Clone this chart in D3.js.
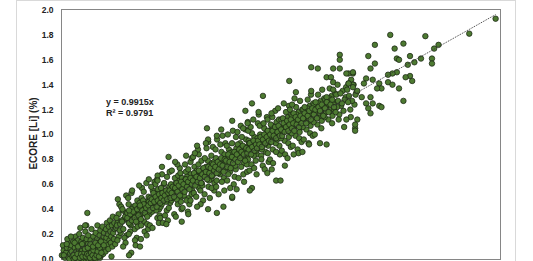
<!DOCTYPE html>
<html>
<head>
<meta charset="utf-8">
<title>ECORE Li scatter</title>
<script src="https://d3js.org/d3.v7.min.js"></script>
<style>
body { margin: 0; background: #fff; }
svg { display: block; font-family: "Liberation Sans", Arial, sans-serif; }
.tick-label { font-size: 8.5px; font-weight: bold; fill: #222; }
.axis-title { font-size: 10px; font-weight: bold; fill: #222; }
.eq { font-size: 9px; font-weight: bold; fill: #222; }
circle.pt { fill: #4d7a31; stroke: #1b2614; stroke-width: 0.75px; }
</style>
</head>
<body>
<script>

var width = 533,
    height = 261;

// y axis ticks (ECORE [Li] %)
var yTicks = [0, 0.2, 0.4, 0.6, 0.8, 1.0, 1.2, 1.4, 1.6, 1.8, 2.0];

// trendline y = 0.9915x, R² = 0.9791
var slope = 0.9915;
var eqLines = ["y = 0.9915x", "R\u00b2 = 0.9791"];

// [reference Li, ECORE Li]
var lowCluster = [
  [0.004,0.03],[0.012,0.07],[0.009,0.11],[0.018,0.01],[0.023,0.05],[0.027,0.09],[0.031,0.02],[0.035,0.13],[0.029,0.16],[0.041,0.04],
  [0.044,0.08],[0.038,0.00],[0.047,0.11],[0.052,0.02],[0.049,0.06],[0.056,0.14],[0.058,0.00],[0.061,0.04],[0.063,0.09],[0.066,0.18],
  [0.068,0.01],[0.071,0.06],[0.074,0.03],[0.072,0.12],[0.077,0.15],[0.079,0.00],[0.081,0.08],[0.084,0.02],[0.083,0.20],[0.087,0.05],
  [0.089,0.11],[0.091,0.01],[0.093,0.14],[0.095,0.03],[0.097,0.07],[0.099,0.17],[0.101,0.00],[0.104,0.04],[0.103,0.10],[0.106,0.02],
  [0.108,0.13],[0.110,0.06],[0.112,0.00],[0.111,0.22],[0.114,0.03],[0.116,0.09],[0.118,0.01],[0.117,0.16],[0.121,0.05],[0.123,0.12],
  [0.125,0.00],[0.127,0.07],[0.124,0.19],[0.129,0.02],[0.131,0.10],[0.133,0.04],[0.135,0.15],[0.136,0.00],[0.138,0.08],[0.141,0.02],
  [0.139,0.24],[0.143,0.12],[0.145,0.05],[0.147,0.18],[0.149,0.01],[0.151,0.09],[0.153,0.03],[0.152,0.14],[0.156,0.06],[0.158,0.21],
  [0.159,0.00],[0.161,0.11],[0.163,0.04],[0.165,0.16],[0.166,0.27],[0.168,0.02],[0.170,0.08],[0.172,0.13],[0.174,0.05],[0.176,0.19],
  [0.178,0.01],[0.179,0.23],[0.181,0.10],[0.183,0.03],[0.185,0.15],[0.187,0.07],[0.189,0.26],[0.190,0.12],[0.192,0.04],[0.194,0.18],
  [0.196,0.21],[0.198,0.09],[0.201,0.14],[0.203,0.06],[0.205,0.24],[0.207,0.17],[0.209,0.29],[0.212,0.11],[0.214,0.20],[0.216,0.08],
  [0.218,0.26],[0.221,0.15],[0.223,0.31],[0.225,0.22],[0.227,0.13],[0.229,0.18],[0.232,0.27],[0.234,0.10],[0.236,0.34],[0.238,0.21],
  [0.241,0.16],[0.243,0.29],[0.245,0.24],[0.247,0.12],
  [0.057,0.03],[0.064,0.01],[0.075,0.04],[0.086,0.01],[0.092,0.04],[0.098,0.02],[0.107,0.05],[0.113,0.02],[0.119,0.04],[0.126,0.03],
  [0.132,0.01],[0.137,0.05],[0.144,0.03],[0.148,0.07],[0.154,0.01],[0.162,0.03],[0.167,0.06],[0.173,0.02],[0.177,0.09],[0.184,0.05],
  [0.013,0.03],[0.026,0.12],[0.045,0.18],[0.062,0.13],[0.078,0.10],[0.096,0.12],[0.109,0.08],[0.122,0.09],[0.134,0.12],[0.146,0.10],
  [0.157,0.13],[0.169,0.11],[0.182,0.14],[0.195,0.11],[0.115,0.27],[0.088,0.25]
];

var midBand = [
  [0.263,0.18],[0.287,0.32],[0.251,0.25],[0.296,0.37],[0.272,0.21],[0.258,0.29],[0.281,0.39],[0.268,0.23],[0.292,0.34],[0.255,0.27],
  [0.276,0.31],[0.299,0.19],[0.262,0.36],[0.284,0.24],[0.270,0.28],[0.253,0.33],[0.289,0.17],[0.278,0.30],[0.266,0.44],[0.294,0.13],
  [0.259,0.48],[0.283,0.10],[0.274,0.42],[0.297,0.51],[0.257,0.15],
  [0.318,0.27],[0.341,0.38],[0.304,0.31],[0.329,0.42],[0.347,0.29],[0.311,0.35],[0.336,0.24],[0.322,0.40],[0.302,0.37],[0.344,0.33],
  [0.315,0.22],[0.333,0.36],[0.308,0.44],[0.349,0.26],[0.326,0.31],[0.339,0.43],[0.313,0.28],[0.331,0.34],[0.306,0.49],[0.345,0.17],
  [0.321,0.53],[0.337,0.15],[0.309,0.20],[0.348,0.47],[0.324,0.55],
  [0.362,0.35],[0.388,0.46],[0.354,0.41],[0.379,0.30],[0.396,0.38],[0.367,0.49],[0.351,0.33],[0.383,0.43],[0.371,0.37],[0.393,0.28],
  [0.358,0.45],[0.376,0.40],[0.399,0.50],[0.365,0.27],[0.386,0.36],[0.353,0.39],[0.374,0.47],[0.391,0.42],[0.369,0.57],[0.381,0.22],
  [0.356,0.59],[0.397,0.24],[0.364,0.16],[0.389,0.61],[0.377,0.54],
  [0.412,0.41],[0.436,0.52],[0.403,0.36],[0.428,0.47],[0.447,0.40],[0.418,0.55],[0.439,0.33],[0.407,0.49],[0.424,0.44],[0.444,0.50],
  [0.415,0.38],[0.431,0.43],[0.401,0.46],[0.449,0.35],[0.421,0.53],[0.434,0.39],[0.409,0.42],[0.442,0.56],[0.426,0.62],[0.405,0.27],
  [0.438,0.64],[0.417,0.25],[0.446,0.29],[0.430,0.60],[0.411,0.58],
  [0.463,0.47],[0.488,0.56],[0.454,0.42],[0.476,0.53],[0.497,0.45],[0.468,0.60],[0.482,0.39],[0.451,0.51],[0.472,0.49],[0.494,0.58],
  [0.459,0.44],[0.485,0.50],[0.466,0.55],[0.491,0.41],[0.456,0.57],[0.479,0.46],[0.499,0.52],[0.470,0.61],[0.460,0.68],[0.487,0.31],
  [0.452,0.33],[0.495,0.70],[0.474,0.35],[0.483,0.66],[0.464,0.29],
  [0.514,0.52],[0.537,0.63],[0.503,0.47],[0.528,0.58],[0.548,0.50],[0.519,0.65],[0.532,0.44],[0.507,0.57],[0.543,0.54],[0.524,0.61],
  [0.511,0.49],[0.539,0.56],[0.501,0.60],[0.546,0.46],[0.521,0.55],[0.534,0.67],[0.509,0.53],[0.527,0.48],[0.541,0.73],[0.516,0.36],
  [0.549,0.40],[0.505,0.71],[0.530,0.76],[0.523,0.34],[0.544,0.69],
  [0.563,0.57],[0.589,0.68],[0.552,0.53],[0.577,0.63],[0.598,0.55],[0.569,0.70],[0.583,0.49],[0.556,0.62],[0.592,0.59],[0.574,0.66],
  [0.560,0.51],[0.586,0.61],[0.551,0.65],[0.595,0.52],[0.571,0.60],[0.580,0.72],[0.558,0.58],[0.567,0.64],[0.590,0.78],[0.554,0.41],
  [0.578,0.38],[0.596,0.81],[0.565,0.76],[0.585,0.44],[0.572,0.47],
  [0.641,0.61],[0.608,0.74],[0.629,0.57],[0.617,0.69],[0.603,0.63],[0.646,0.72],[0.622,0.66],[0.635,0.55],[0.611,0.60],[0.649,0.68],
  [0.626,0.76],[0.614,0.64],[0.638,0.70],[0.605,0.53],[0.632,0.62],[0.619,0.71],[0.644,0.59],[0.610,0.67],[0.628,0.84],[0.647,0.47],
  [0.602,0.82],[0.636,0.44],[0.616,0.50],[0.624,0.88],[0.640,0.79],
  [0.657,0.72],[0.683,0.64],[0.669,0.79],[0.694,0.70],[0.652,0.66],[0.676,0.75],[0.699,0.61],[0.664,0.69],[0.688,0.77],[0.672,0.58],
  [0.655,0.81],[0.680,0.71],[0.691,0.67],[0.661,0.74],[0.697,0.78],[0.674,0.63],[0.685,0.83],[0.667,0.68],[0.654,0.52],[0.692,0.90],
  [0.678,0.49],[0.663,0.89],[0.698,0.55],[0.671,0.94],[0.686,0.57]
];

var upperBand = [
  [0.738,0.72],[0.706,0.81],[0.724,0.68],[0.747,0.78],[0.713,0.74],[0.731,0.86],[0.702,0.70],[0.742,0.65],[0.719,0.77],[0.735,0.80],
  [0.709,0.63],[0.727,0.75],[0.745,0.84],[0.716,0.69],[0.740,0.73],[0.704,0.88],[0.722,0.79],[0.733,0.62],[0.711,0.96],[0.744,0.55],
  [0.726,0.92],[0.707,0.58],[0.749,0.93],[0.718,0.52],[0.736,0.99],
  [0.773,0.83],[0.752,0.76],[0.789,0.79],[0.765,0.88],[0.796,0.72],[0.758,0.81],[0.781,0.86],[0.770,0.70],[0.792,0.84],[0.755,0.91],
  [0.777,0.77],[0.799,0.89],[0.762,0.68],[0.785,0.80],[0.768,0.85],[0.794,0.75],[0.751,0.73],[0.779,0.93],[0.787,0.60],[0.760,1.00],
  [0.797,0.98],[0.771,0.57],[0.783,1.03],[0.757,0.63],[0.791,0.66],
  [0.826,0.81],[0.845,0.90],[0.807,0.86],[0.833,0.77],[0.816,0.93],[0.849,0.83],[0.802,0.79],[0.838,0.88],[0.821,0.74],[0.811,0.84],
  [0.843,0.96],[0.829,0.87],[0.805,0.92],[0.836,0.80],[0.818,0.89],[0.847,0.76],[0.824,0.98],[0.813,0.82],[0.840,1.04],[0.809,0.65],
  [0.831,0.68],[0.804,1.02],[0.848,0.70],[0.819,1.07],[0.834,0.62],
  [0.874,0.88],[0.855,0.95],[0.893,0.84],[0.866,0.91],[0.852,0.80],[0.881,0.98],[0.898,0.92],[0.860,0.86],[0.887,0.79],[0.870,1.01],
  [0.857,0.93],[0.895,0.97],[0.878,0.83],[0.863,0.89],[0.890,0.87],[0.853,1.03],[0.884,0.94],[0.868,0.76],[0.897,1.09],[0.859,0.71],
  [0.876,1.12],[0.891,0.68],[0.864,1.06],[0.880,0.73],[0.851,1.10],
  [0.921,0.97],[0.944,0.91],[0.907,1.00],[0.932,0.86],[0.917,0.94],[0.949,1.03],[0.903,0.89],[0.926,1.05],[0.939,0.95],[0.912,0.83],
  [0.947,0.99],[0.929,0.92],[0.905,1.07],[0.935,1.01],[0.915,0.88],[0.942,0.85],[0.923,1.09],[0.909,0.96],[0.938,1.14],[0.919,0.75],
  [0.946,0.78],[0.901,1.16],[0.928,0.72],[0.941,1.12],[0.913,0.80],
  [0.968,1.02],[0.953,0.94],[0.987,0.99],[0.961,1.07],[0.995,0.91],[0.974,1.04],[0.958,0.97],[0.982,1.10],[0.999,1.01],[0.965,0.88],
  [0.990,1.05],[0.951,1.03],[0.978,0.93],[0.993,1.12],[0.971,0.98],[0.956,1.08],[0.985,0.96],[0.963,1.14],[0.997,0.84],[0.976,1.19],
  [0.952,0.80],[0.989,1.21],[0.966,0.77],[0.980,0.86],[0.959,1.17],
  [1.013,1.06],[1.038,0.98],[1.004,1.12],[1.027,1.03],[1.046,1.09],[1.019,0.95],[1.034,1.14],[1.008,1.01],[1.041,1.07],[1.023,1.11],
  [1.002,0.97],[1.030,1.04],[1.049,1.16],[1.016,1.08],[1.036,0.93],[1.011,1.13],[1.044,1.02],[1.025,1.18],[1.006,0.87],[1.039,1.23],
  [1.021,0.84],[1.047,0.90],[1.015,1.25],[1.032,0.81],[1.043,1.20],
  [1.062,1.10],[1.087,1.02],[1.054,1.15],[1.076,1.07],[1.097,1.13],[1.068,0.99],[1.083,1.18],[1.058,1.05],[1.092,1.11],[1.073,1.16],
  [1.051,1.01],[1.080,1.08],[1.099,1.20],[1.065,1.12],[1.085,0.97],[1.060,1.17],[1.094,1.06],[1.071,1.22],[1.056,0.91],[1.089,1.27],
  [1.078,0.88],[1.096,0.94],[1.064,1.29],[1.082,0.85],[1.053,1.24],
  [1.112,1.15],[1.137,1.07],[1.104,1.20],[1.126,1.11],[1.146,1.18],[1.118,1.04],[1.133,1.23],[1.108,1.10],[1.142,1.16],[1.122,1.21],
  [1.101,1.06],[1.130,1.13],[1.149,1.25],[1.115,1.17],[1.135,1.01],[1.110,1.22],[1.144,1.12],[1.124,1.28],[1.106,0.96],[1.139,1.32],
  [1.128,0.93],[1.147,0.99],
  [1.163,1.19],[1.188,1.11],[1.154,1.24],[1.176,1.15],[1.197,1.22],[1.168,1.08],[1.183,1.27],[1.158,1.14],[1.192,1.20],[1.173,1.25],
  [1.151,1.10],[1.180,1.17],[1.199,1.29],[1.165,1.21],[1.186,1.05],[1.160,1.26],[1.194,1.16],[1.171,1.32],[1.156,1.00],[1.190,1.36],
  [1.212,1.23],[1.237,1.15],[1.204,1.28],[1.226,1.19],[1.246,1.26],[1.218,1.12],[1.233,1.31],[1.208,1.18],[1.242,1.24],[1.222,1.29],
  [1.201,1.14],[1.230,1.21],[1.249,1.33],[1.215,1.25],[1.235,1.09],[1.210,1.30],[1.244,1.20],[1.224,1.37],
  [1.262,1.27],[1.287,1.19],[1.254,1.32],[1.276,1.23],[1.297,1.30],[1.268,1.16],[1.283,1.35],[1.258,1.22],[1.292,1.28],[1.273,1.33],
  [1.251,1.18],[1.280,1.25],[1.299,1.38],[1.265,1.12],
  [1.312,1.31],[1.337,1.24],[1.304,1.36],[1.326,1.27],[1.346,1.34],[1.318,1.20],[1.333,1.40],[1.308,1.26],[1.342,1.32],[1.322,1.44]
];

// densest part of the band, along its middle
var bandCore = [
  [0.302,0.33],[0.309,0.29],[0.316,0.36],[0.323,0.31],[0.329,0.38],[0.336,0.33],[0.342,0.30],[0.347,0.40],[0.353,0.35],[0.359,0.42],
  [0.364,0.32],[0.371,0.39],[0.377,0.44],[0.382,0.37],[0.388,0.41],[0.393,0.34],[0.398,0.43],
  [0.404,0.39],[0.409,0.45],[0.414,0.48],[0.419,0.41],[0.425,0.46],[0.431,0.50],[0.436,0.42],[0.441,0.47],[0.447,0.52],[0.452,0.45],
  [0.457,0.49],[0.462,0.53],[0.468,0.47],[0.473,0.51],[0.479,0.55],[0.484,0.48],[0.489,0.53],[0.495,0.55],[0.499,0.49],
  [0.504,0.53],[0.509,0.58],[0.515,0.50],[0.520,0.57],[0.526,0.61],[0.531,0.54],[0.536,0.59],[0.542,0.51],[0.547,0.62],[0.553,0.56],
  [0.558,0.60],[0.563,0.54],[0.569,0.64],[0.574,0.58],[0.579,0.62],[0.585,0.56],[0.590,0.65],[0.596,0.60],
  [0.601,0.63],[0.606,0.69],[0.612,0.59],[0.617,0.66],[0.623,0.62],[0.628,0.71],[0.633,0.65],[0.639,0.61],[0.644,0.68],[0.649,0.73],
  [0.655,0.66],[0.660,0.70],[0.666,0.64],[0.671,0.74],[0.676,0.69],[0.682,0.73],[0.687,0.67],[0.693,0.76],[0.698,0.71],
  [0.703,0.74],[0.709,0.69],[0.714,0.78],[0.719,0.72],[0.725,0.76],[0.730,0.81],[0.736,0.75],[0.741,0.70],[0.746,0.80],[0.752,0.79],
  [0.757,0.74],[0.762,0.84],[0.768,0.78],[0.773,0.73],[0.779,0.82],[0.784,0.77],[0.790,0.86],[0.795,0.80],
  [0.801,0.84],[0.806,0.78],[0.812,0.88],[0.817,0.81],[0.822,0.86],[0.828,0.91],[0.833,0.84],[0.839,0.79],[0.844,0.89],[0.849,0.85],
  [0.855,0.88],[0.860,0.93],[0.866,0.84],[0.871,0.90],[0.877,0.95],[0.882,0.87],[0.888,0.92],[0.893,0.89],[0.898,0.95],
  [0.904,0.92],[0.909,0.98],[0.915,0.90],[0.920,0.96],[0.926,1.00],[0.931,0.93],[0.937,0.98],[0.942,1.03],[0.947,0.95],[0.953,1.00],
  [0.958,0.94],[0.964,1.03],[0.969,0.99],[0.975,1.06],[0.980,0.97],[0.986,1.02],[0.991,1.07],[0.997,0.99],
  [1.003,1.04],[1.008,0.99],[1.014,1.09],[1.019,1.02],[1.025,1.06],[1.030,1.11],[1.036,1.03],[1.041,1.08],[1.047,1.12],[1.052,1.05],
  [1.058,1.09],[1.063,1.03],[1.069,1.14],[1.074,1.08],[1.080,1.12],[1.085,1.06],[1.091,1.15],[1.096,1.09],
  [1.103,1.13],[1.110,1.17],[1.117,1.09],[1.124,1.15],[1.131,1.19],[1.138,1.12],[1.145,1.21],[1.152,1.16],[1.159,1.20],[1.166,1.13],
  [1.173,1.22],[1.180,1.19],[1.188,1.24],[1.195,1.15],[1.203,1.21],[1.211,1.26],[1.219,1.18],[1.228,1.24],[1.236,1.28],[1.244,1.22]
];

var highSpread = [
  [1.50,1.80],[1.66,1.79],[1.43,1.72],[1.56,1.73],[1.52,1.69],[1.72,1.72],[1.70,1.69],[1.40,1.63],[1.59,1.63],[1.27,1.64],
  [1.27,1.60],[1.43,1.57],[1.41,1.53],[1.53,1.61],[1.54,1.60],[1.58,1.56],[1.61,1.58],[1.64,1.61],[1.69,1.61],[1.69,1.57],
  [1.53,1.50],[1.51,1.49],[1.49,1.48],[1.59,1.47],[1.57,1.46],[1.60,1.43],[1.49,1.42],[1.51,1.40],[1.54,1.37],[1.45,1.41],
  [1.42,1.44],[1.39,1.45],[1.38,1.41],[1.46,1.37],[1.44,1.37],[1.41,1.30],[1.39,1.25],[1.42,1.25],[1.45,1.23],[1.46,1.22],
  [1.40,1.21],[1.41,1.17],[1.56,1.27],[1.37,1.30],[1.35,1.35],[1.33,1.40],[1.31,1.41],[1.33,1.49],[1.31,1.49],[1.27,1.53],
  [1.24,1.53],[1.35,1.12],[1.29,1.06],[1.34,1.05],[1.32,1.14],[1.30,1.12],[1.86,1.81],[1.98,1.93],[1.14,1.54],[1.17,1.53],
  [1.21,1.46],[1.23,1.46],[1.24,1.42],[1.30,1.49],[1.33,1.50],[1.14,1.35],[1.07,1.34],[1.24,1.36],[1.26,1.40],[1.31,1.41],
  [1.33,1.38],[1.34,1.08],[1.34,1.03]
];

var strays = [
  [1.04,1.43],[0.92,1.31],[0.87,1.25],[0.84,1.19],[0.78,1.11],[0.665,1.05],[0.67,0.96],[0.71,0.99],[0.73,1.04],[0.83,1.05],
  [0.85,1.09],[0.71,0.37],[0.74,0.42],[0.67,0.40],[0.78,0.49],[0.87,0.57],[0.62,0.42],[0.59,0.47],[0.98,0.63],[1.00,0.63],
  [0.94,0.69],[0.86,0.55],[0.78,0.50],[1.06,0.84],[1.13,0.92],[1.21,0.92],[1.18,0.93],[0.39,0.19],[0.34,0.11],[0.36,0.10],
  [0.32,0.05],[0.31,0.03],[0.23,0.02],[0.49,0.82],[0.46,0.74],[0.57,0.83],[0.61,0.85],[0.44,0.67],[0.44,0.63],[0.28,0.40],
  [0.31,0.39],[0.36,0.43],[0.12,0.37],[0.11,0.27],[0.52,0.78],[0.55,0.30],[0.40,0.64],[0.66,0.93],[0.90,1.18],[0.96,0.72],
  [1.10,0.86],[0.80,0.56],[0.62,0.91],[0.48,0.28],[0.58,0.36],[1.02,0.75]
];

var points = [].concat(lowCluster, midBand, upperBand, bandCore, highSpread, strays);

var x = d3.scaleLinear().domain([0, 2]).range([61, 500]);
var y = d3.scaleLinear().domain([0, 2]).range([259, 10]);

var svg = d3.select("body").append("svg")
    .attr("width", width)
    .attr("height", height);

svg.append("rect")
    .attr("width", width).attr("height", height)
    .attr("fill", "#fff");

// outer chart frame
svg.append("rect")
    .attr("x", 16.5).attr("y", 0.5)
    .attr("width", 499).attr("height", 300)
    .attr("fill", "none")
    .attr("stroke", "#d9d9d9");

// plot area border
svg.append("rect")
    .attr("x", 61.5).attr("y", 9.5)
    .attr("width", 439).attr("height", 250)
    .attr("fill", "none")
    .attr("stroke", "#868686");

// y tick labels, no tick marks
svg.append("g").selectAll("text")
    .data(yTicks)
  .enter().append("text")
    .attr("class", "tick-label")
    .attr("x", 53.5)
    .attr("y", function(d) { return y(d); })
    .attr("dy", "0.35em")
    .attr("text-anchor", "end")
    .text(d3.format(".1f"));

svg.append("text")
    .attr("class", "axis-title")
    .attr("transform", "translate(36.5," + 133.5 + ") rotate(-90)")
    .attr("text-anchor", "middle")
    .text("ECORE [Li] (%)");

svg.append("g").selectAll("circle")
    .data(points)
  .enter().append("circle")
    .attr("class", "pt")
    .attr("cx", function(d) { return x(d[0]); })
    .attr("cy", function(d) { return y(d[1]); })
    .attr("r", 2.75);

// linear trendline through origin, across the data range
var xMax = d3.max(points, function(d) { return d[0]; });
svg.append("line")
    .attr("x1", x(0)).attr("y1", y(0))
    .attr("x2", x(xMax)).attr("y2", y(slope * xMax))
    .attr("stroke", "#3a3a3a")
    .attr("stroke-width", 1)
    .attr("stroke-dasharray", "1,1");

svg.append("g").selectAll("text")
    .data(eqLines)
  .enter().append("text")
    .attr("class", "eq")
    .attr("x", 106)
    .attr("y", function(d, i) { return 105 + i * 11; })
    .text(function(d) { return d; });

</script>
</body>
</html>
